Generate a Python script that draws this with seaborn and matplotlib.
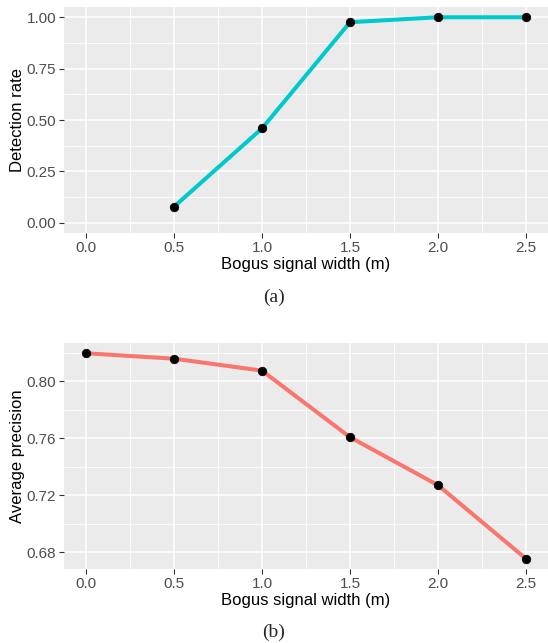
import matplotlib
matplotlib.use("Agg")
import matplotlib.pyplot as plt
import seaborn as sns
import pandas as pd
from matplotlib.ticker import FixedLocator

widths_a = [0.5, 1.0, 1.5, 2.0, 2.5]
detection_rate = [0.078, 0.459, 0.976, 1.0, 1.0]

widths_b = [0.0, 0.5, 1.0, 1.5, 2.0, 2.5]
avg_precision = [0.8196, 0.8158, 0.8074, 0.7607, 0.7270, 0.6754]

x_ticks = [0.0, 0.5, 1.0, 1.5, 2.0, 2.5]
x_tick_labels = ["0.0", "0.5", "1.0", "1.5", "2.0", "2.5"]
ya_ticks = [0.0, 0.25, 0.5, 0.75, 1.0]
ya_tick_labels = ["0.00", "0.25", "0.50", "0.75", "1.00"]
yb_ticks = [0.68, 0.72, 0.76, 0.80]
yb_tick_labels = ["0.68", "0.72", "0.76", "0.80"]

x_label = "Bogus signal width (m)"
ya_label = "Detection rate"
yb_label = "Average precision"
captions = ["(a)", "(b)"]

sns.set_theme(style="darkgrid")
plt.rcParams["font.family"] = ["Liberation Sans", "DejaVu Sans"]

W, H = 548, 643
fig = plt.figure(figsize=(W / 100, H / 100), dpi=100)

def make_ax(top, bottom, left=64, right=548):
    return fig.add_axes([left / W, 1 - bottom / H, (right - left) / W, (bottom - top) / H])

ax_a = make_ax(7, 233)
ax_b = make_ax(343, 569)

df_a = pd.DataFrame({"w": widths_a, "v": detection_rate})
df_b = pd.DataFrame({"w": widths_b, "v": avg_precision})

def style(ax, yticks, ylabels, ylabel, ylim, yminor):
    ax.set_facecolor("#EBEBEB")
    ax.set_xlim(-0.125, 2.625)
    ax.set_ylim(*ylim)
    ax.set_xticks(x_ticks)
    ax.set_xticklabels(x_tick_labels)
    ax.set_yticks(yticks)
    ax.set_yticklabels(ylabels)
    ax.xaxis.set_minor_locator(FixedLocator([0.25, 0.75, 1.25, 1.75, 2.25]))
    ax.yaxis.set_minor_locator(FixedLocator(yminor))
    ax.grid(which="major", color="white", linewidth=1.1)
    ax.grid(which="minor", color="white", linewidth=0.55)
    ax.set_axisbelow(True)
    for s in ax.spines.values():
        s.set_visible(False)
    ax.tick_params(axis="both", which="major", length=3.5, width=0.8, color="#333333",
                   labelsize=11, labelcolor="#4D4D4D", pad=2, bottom=True, left=True)
    ax.tick_params(axis="both", which="minor", length=0)
    ax.set_xlabel(x_label, fontsize=12, color="black", labelpad=2)
    ax.set_ylabel(ylabel, fontsize=12, color="black")
    ax.yaxis.set_label_coords(-0.08, 0.5)

sns.lineplot(data=df_a, x="w", y="v", ax=ax_a, color="#00C9CC", linewidth=2.9)
sns.scatterplot(data=df_a, x="w", y="v", ax=ax_a, color="black", s=38, edgecolor="black", zorder=5)
style(ax_a, ya_ticks, ya_tick_labels, ya_label, (-0.05, 1.05),
      [0.125, 0.375, 0.625, 0.875])

sns.lineplot(data=df_b, x="w", y="v", ax=ax_b, color="#F8766D", linewidth=2.9)
sns.scatterplot(data=df_b, x="w", y="v", ax=ax_b, color="black", s=38, edgecolor="black", zorder=5)
style(ax_b, yb_ticks, yb_tick_labels, yb_label, (0.6682, 0.8268),
      [0.70, 0.74, 0.78, 0.82])

fig.text(274 / W, 1 - 297 / H, captions[0], ha="center", va="center",
         fontsize=14, family=["Liberation Serif", "DejaVu Serif"])
fig.text(274 / W, 1 - 632 / H, captions[1], ha="center", va="center",
         fontsize=14, family=["Liberation Serif", "DejaVu Serif"])

fig.savefig("out.png", dpi=100)
